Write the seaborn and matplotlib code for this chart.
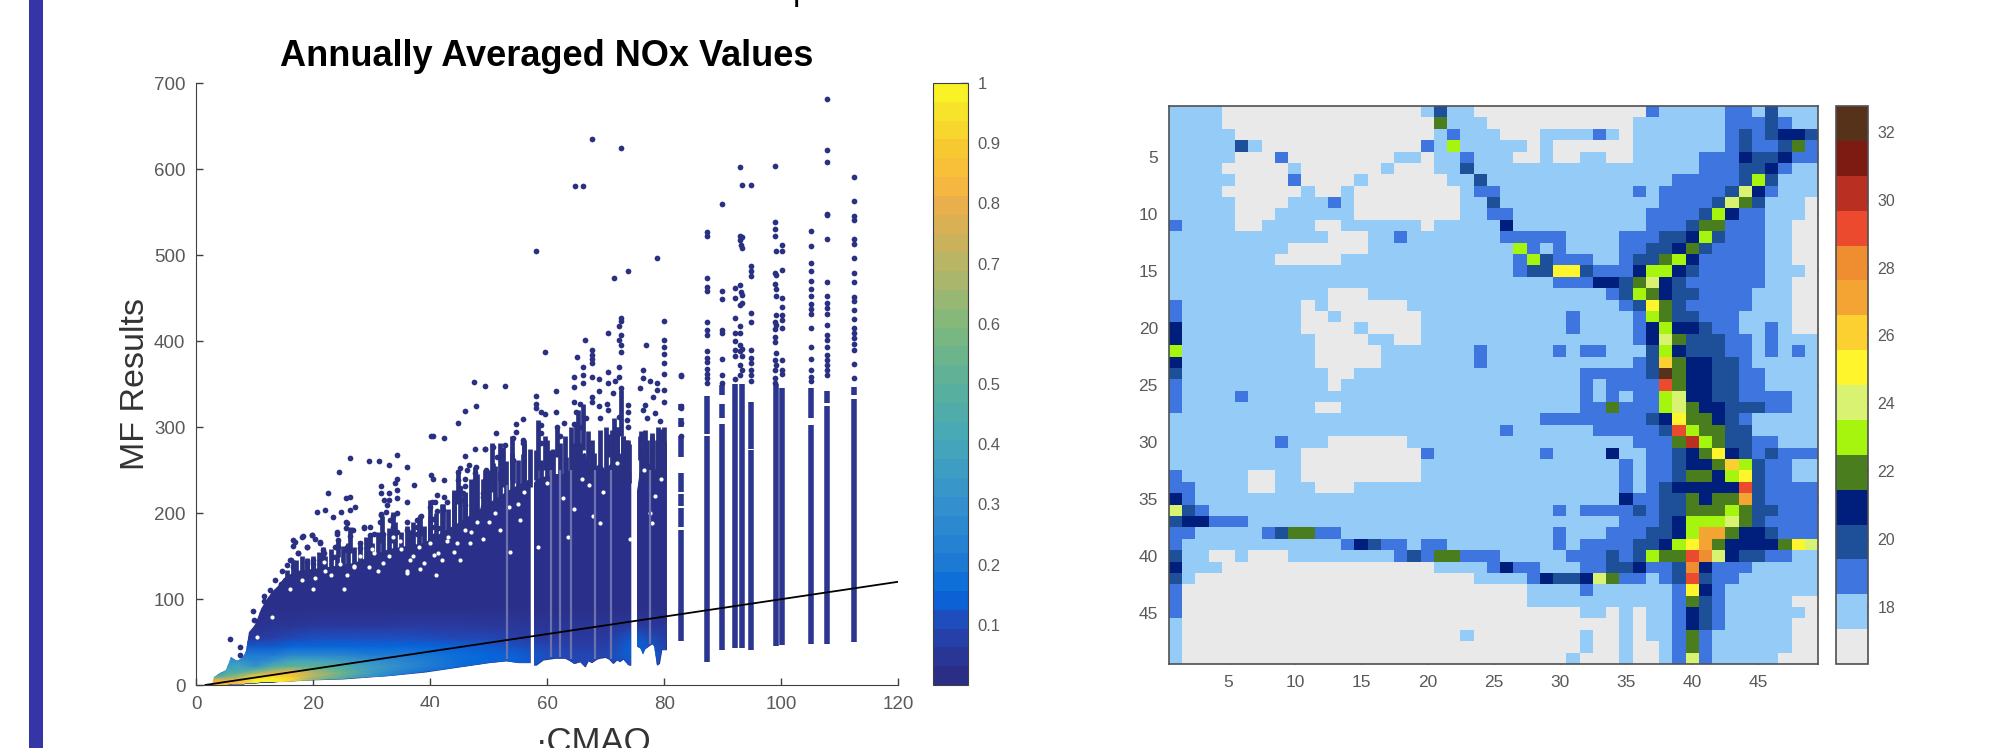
# NOx scatter (density coloured) next to the gridded map
import numpy as np
import pandas as pd
import matplotlib
matplotlib.use("Agg")
import matplotlib.pyplot as plt
from matplotlib.colors import LinearSegmentedColormap, ListedColormap
from matplotlib.patches import Rectangle
import seaborn as sns

# ---- scatter: outline of the dense cloud, three pieces with white gaps between
CLOUD1_X = [2.7, 3, 4, 5, 6, 7, 8, 8.4, 9, 10, 11, 12, 13, 14, 15, 17, 20, 25, 27, 33, 39, 45, 50, 53, 55, 57.1]
CLOUD1_LOW = [0, 0, 0, 0, 1, 1, 1, 2, 2, 2, 3, 3, 3, 4, 4, 5, 6, 7, 8, 11, 15, 21, 26, 28, 26, 26]
CLOUD1_TOP = [0.5, 9, 14, 18, 32, 28, 32, 40, 62, 70, 88, 100, 108, 115, 125, 132, 135, 140, 142, 158, 165, 190, 212, 225, 232, 240]
CLOUD2_X = [57.7, 58.1, 58.5, 59.3, 61.3, 63, 63.9, 64.6, 65.6, 66.5, 67, 67.6, 68.5, 69, 69.9, 70.5, 71.3, 71.9, 72.4, 73, 73.9, 74.3]
CLOUD2_LOW = [23, 23, 25, 29, 31, 31, 28, 25, 27, 21, 28, 26, 30, 31, 32, 30, 25, 29, 27, 30, 23, 23]
CLOUD2_TOP = [235, 238, 240, 242, 245, 245, 250, 262, 268, 270, 255, 250, 255, 258, 250, 255, 262, 270, 270, 262, 252, 248]
CLOUD3_X = [75.3, 75.9, 76.3, 76.7, 77.9, 78.3, 78.7, 79.2, 79.6, 80.4]
CLOUD3_LOW = [45, 43, 36, 42, 48, 45, 23, 25, 41, 41]
CLOUD3_TOP = [225, 250, 262, 262, 255, 250, 252, 255, 265, 285]

# density inside the cloud (rows DENS_Y, columns DENS_X)
DENS_X = [2, 5, 7, 10, 13, 16, 20, 25, 30, 35, 40, 45, 50, 55, 60, 65, 70, 75, 81]
DENS_Y = [0, 3, 6, 10, 14, 18, 22, 28, 35, 45, 55, 70, 90, 300]
DENSITY = [
    [.85, .85, .85, .95, .95, .80, .30, .20, .15, .10, .10, .10, .10, .10, .10, .10, .10, .10, .10],
    [.85, .85, .85, 1.0, 1.0, .90, .50, .30, .20, .12, .10, .10, .10, .10, .10, .10, .10, .10, .10],
    [.80, .80, .80, 1.0, 1.0, .95, .60, .40, .25, .14, .12, .10, .10, .10, .10, .10, .10, .10, .10],
    [.40, .55, .65, .90, .95, .90, .70, .50, .30, .18, .14, .12, .10, .10, .10, .10, .10, .10, .10],
    [.20, .45, .50, .65, .80, .85, .70, .55, .35, .22, .15, .14, .10, .10, .10, .10, .10, .10, .10],
    [.10, .40, .40, .45, .60, .70, .60, .50, .35, .25, .18, .14, .12, .10, .10, .10, .10, .10, .10],
    [.10, .35, .40, .30, .45, .50, .50, .45, .35, .28, .20, .16, .12, .12, .08, .08, .08, .10, .08],
    [.10, .30, .30, .25, .30, .40, .40, .35, .30, .25, .20, .16, .14, .13, .10, .08, .08, .12, .08],
    [.10, .20, .20, .20, .20, .25, .25, .25, .20, .20, .18, .16, .14, .13, .10, .08, .08, .14, .08],
    [.10, .10, .12, .12, .12, .14, .14, .14, .14, .14, .14, .13, .12, .10, .08, .06, .06, .14, .06],
    [.02, .02, .03, .05, .06, .08, .10, .10, .10, .10, .09, .08, .08, .06, .05, .05, .05, .12, .05],
    [.02, .02, .02, .02, .03, .03, .04, .04, .04, .05, .05, .05, .04, .04, .03, .03, .03, .05, .03],
    [.01, .01, .01, .01, .01, .01, .01, .01, .01, .01, .01, .01, .01, .01, .01, .01, .01, .01, .01],
    [.01, .01, .01, .01, .01, .01, .01, .01, .01, .01, .01, .01, .01, .01, .01, .01, .01, .01, .01],
]

# the single tall columns right of x=80
COL_X = [82.8, 82.8, 82.8, 82.8, 82.8, 82.8, 82.8, 87.4, 87.4, 89.9, 89.9, 89.9, 92.1, 93.3, 94.9, 94.9, 99.1, 100.2, 105.1, 105.1, 107.8, 107.8, 112.5, 112.5]
COL_LOW = [51, 184, 208, 225, 265, 300, 320, 27, 292, 41, 310, 337, 43, 43, 41, 275, 45, 46, 48, 310, 48, 328, 50, 337]
COL_TOP = [180, 206, 222, 246, 290, 310, 327, 289, 336, 303, 327, 349, 350, 350, 273, 329, 350, 345, 302, 345, 325, 342, 333, 346]

# broken strips above the solid cloud
DASH_X = [49.6, 50.8, 52.5, 54.2, 55.9, 58.1, 59, 60.5, 61.6, 62.2, 63.3, 64.2, 65.3, 65.6, 66.2, 67.6, 69, 70.4, 71.9, 72.7, 73, 73.9, 75.9, 76.4, 77.9, 78.7, 80,
          44.8, 47.6, 49.4, 46, 44, 42.2, 40, 40, 38.2, 36.5, 33.7, 31.7, 29.7, 26.3, 24.3, 21.7, 16.6, 18.9, 20, 15.5,
          58.5, 59.6, 54, 56, 52, 50.5, 71, 76.8, 72.9, 73.4, 79.5]
DASH_LOW = [215, 225, 230, 235, 230, 238, 238, 250, 265, 238, 242, 258, 265, 258, 273, 238, 250, 265, 238, 289, 238, 258, 262, 238, 250, 238, 238,
            211, 180, 200, 180, 173, 161, 204, 165, 173, 149, 165, 165, 149, 153, 149, 138, 124, 122, 122, 122,
            250, 250, 238, 238, 238, 242, 238, 238, 238, 238, 238]
DASH_TOP = [238, 258, 277, 262, 269, 273, 262, 273, 300, 281, 265, 281, 320, 281, 327, 285, 296, 292, 300, 343, 289, 285, 289, 262, 293, 285, 300,
            250, 254, 250, 223, 227, 211, 215, 196, 198, 180, 201, 196, 176, 184, 169, 161, 145, 141, 145, 134,
            308, 290, 289, 285, 281, 281, 296, 296, 290, 285, 298]

# closely spaced strips that make the speckled rim of the cloud
STRIP_X = [17, 18, 19, 20, 21, 22, 23, 24, 25, 26, 27, 28, 29, 30, 31, 32, 33, 34, 35, 36, 37, 38, 39, 40, 41, 42, 43, 44, 45, 46, 47, 48, 49, 50, 51, 52, 53, 54, 55, 56, 57,
           60, 61, 63, 64, 65, 67, 68, 70, 71.5, 72, 74, 76, 77, 78, 79]
STRIP_LOW = [125, 125, 125, 125, 130, 130, 130, 130, 130, 135, 135, 135, 140, 140, 140, 150, 150, 150, 155, 155, 155, 160, 160, 160, 170, 170, 170, 180, 180, 180, 195, 195, 195, 205, 205, 205, 220, 220, 220, 230, 230,
             235, 235, 235, 235, 235, 235, 235, 235, 235, 235, 235, 235, 235, 235, 235]
STRIP_TOP = [145, 150, 148, 150, 155, 150, 158, 152, 162, 165, 160, 168, 172, 165, 178, 175, 182, 190, 178, 185, 190, 195, 185, 205, 200, 210, 205, 225, 230, 225, 240, 245, 240, 250, 255, 248, 260, 270, 262, 280, 275,
             285, 275, 290, 300, 305, 295, 270, 300, 310, 300, 280, 295, 285, 290, 300]

# holes in the cloud and the paler thin strips
HOLE_X = [34.9, 33.7, 36.6, 29.5, 30.3, 25.2, 20, 10.4, 12.9, 20.3, 24.6, 21.8, 40.6, 41.4, 44.6, 46.8, 38.3, 42.8, 36, 25.8, 26.9, 53.7, 63.6, 69, 77.6, 77.9, 55.4, 53.4, 58.5, 67.9, 74.2,
          28, 30, 33, 35, 37, 38, 40, 43, 46, 48, 27, 32, 23, 18, 16, 22, 36, 39, 42, 44, 47, 50, 51, 52, 55, 56, 31, 41, 45, 49,
          60, 62.7, 66, 69.5, 72, 78.5, 79.5, 76.5, 64.5, 67.2]
HOLE_Y = [167, 172, 145, 137, 153, 112, 112, 56, 79, 124, 141, 143, 151, 153, 165, 165, 135, 168, 133, 128, 137, 155, 172, 188, 200, 188, 192, 207, 161, 196, 170,
          150, 158, 150, 158, 150, 160, 165, 172, 180, 190, 138, 142, 128, 122, 112, 132, 130, 142, 145, 155, 178, 190, 200, 180, 210, 225, 132, 128, 145, 170,
          235, 218, 240, 225, 258, 220, 240, 250, 205, 232]
PALE_X = [53.2, 60.6, 62.2, 64, 68.2, 70.9, 77.6]
PALE_LOW = [30, 33, 33, 30, 30, 30, 48]
PALE_TOP = [232, 250, 250, 250, 250, 250, 250]

# single points, left part, middle part, right part
EDGE_X = [5.8, 7.5, 7.5, 9.6, 9.9, 11.5, 13.5, 14.6, 16.1, 17.3, 18.9, 16.8, 18.3, 19.8, 21.2, 21.8, 24, 23.8, 25.8, 28.6, 31.5, 11.5, 12.6, 15.5, 14.4, 16.6, 20, 21.5, 25.8, 28, 30.3]
EDGE_Y = [53, 44, 35, 86, 76, 104, 122, 132, 145, 154, 160, 166, 173, 174, 166, 153, 176, 161, 188, 182, 198, 98, 110, 139, 118, 137, 141, 137, 161, 165, 176]
LEFT_X = [47.5, 49.4, 47.8, 46, 44.7, 40.2, 40.5, 42.3, 47.6, 49.4, 46, 26.3, 29.6, 31.2, 33, 34.3, 36.1, 24.4, 40.2, 40.5, 42.3, 34, 34.3, 31.5, 37.3, 22.5, 31.5, 33, 34.3, 34.3, 25.6, 26.2, 36.1, 27.1, 26.3, 24.7, 22, 20.6, 23.4, 41.1, 32.1, 33, 32.6, 40.3, 40.8, 40, 42.3, 42.8, 41.2, 42.2, 31.5, 32.4, 34.3, 33.7, 33.1, 38.5, 37.7, 36.1, 25.6, 25.6, 26.8, 24, 28.6, 29.7, 31.4, 40.5, 40.3, 41.4, 37.7, 38.8, 33.7, 32, 33.1, 29.7, 19.7, 18, 16.6, 16.6, 20.3, 21.2, 17.3, 18.9, 26.3, 24.3, 23.7, 24.3, 25.4, 28, 21.7, 16, 18.9, 20, 21.7, 23.4, 34.3, 36, 37.7, 40.5, 42.2, 44.8, 45.1, 46.2, 46.7, 47.9, 49.6, 44.8, 46, 47.6, 47.6, 49.4, 46, 45.1, 44.5, 45.6, 47.6, 49.1, 45.4, 47.6, 46, 47.4, 49.1, 49.1]
LEFT_Y = [352, 348, 325, 319, 305, 290, 289, 287, 274, 274, 266, 264, 260, 260, 256, 268, 254, 248, 244, 240, 238, 235, 239, 231, 233, 223, 223, 223, 227, 217, 217, 219, 213, 207, 203, 201, 203, 201, 195, 221, 215, 215, 209, 213, 213, 207, 219, 213, 202, 203, 199, 201, 200, 196, 192, 196, 192, 189, 189, 182, 180, 178, 184, 184, 189, 193, 184, 182, 184, 178, 184, 176, 176, 174, 174, 172, 169, 162, 170, 165, 154, 160, 173, 169, 161, 161, 157, 159, 157, 145, 143, 145, 149, 149, 178, 180, 176, 173, 174, 248, 252, 250, 256, 254, 250, 238, 240, 246, 238, 238, 231, 229, 223, 223, 227, 223, 215, 217, 209, 200, 219, 207]
MID_X = [58.1, 78.8, 73.8, 71.4, 64.7, 66.1, 67.7, 72.6, 72.6, 72.6, 72.3, 70.4, 72.6, 72.3, 72.6, 72.6, 66.4, 59.6, 65.1, 67.7, 67.7, 67.7, 67.7, 80, 80, 80, 80, 80, 76.9, 76.3, 82.8, 82.8, 82.8, 82.8, 82.8, 52.8, 61.5, 58.1, 58.1, 58.1, 59, 59.6, 61.5, 55.9, 54.7, 51.2, 54.7, 59, 59, 66.2, 66.2, 66.2, 64.6, 64.6, 67.7, 68.9, 70.4, 70.4, 72.2, 72.2, 71.6, 72.7, 68.9, 67.7, 67.7, 71.3, 70.2, 68.9, 73.9, 73.9, 76.4, 75.9, 77.6, 78.7, 78.7, 80, 80, 80, 78.1, 76.7, 76.4, 78.4, 77, 79.3, 70.4, 72.2, 73.6, 73.9, 69, 62.8, 64.5, 65.6, 64.5, 65, 66.7, 65.6, 59, 61.6, 62.2, 54.2, 55.9, 49.4, 50.8, 52.8, 51.4, 54.2, 55.9]
MID_Y = [505, 497, 481, 473, 580, 580, 635, 625, 427, 423, 417, 409, 407, 401, 395, 387, 401, 387, 381, 389, 384, 379, 374, 423, 401, 393, 385, 375, 395, 366, 360, 325, 322, 305, 289, 348, 342, 336, 327, 322, 318, 315, 318, 309, 303, 293, 294, 302, 293, 370, 360, 351, 358, 347, 358, 356, 364, 351, 370, 358, 353, 345, 342, 335, 329, 339, 327, 324, 326, 318, 357, 345, 353, 351, 343, 362, 343, 329, 335, 326, 320, 316, 310, 307, 320, 312, 308, 300, 310, 305, 304, 327, 329, 318, 310, 300, 281, 300, 289, 287, 285, 274, 277, 279, 265, 262, 281]
RIGHT_X = [82.8, 87.4, 87.4, 87.4, 87.4, 87.4, 87.4, 87.4, 87.4, 87.4, 87.4, 87.4, 87.4, 87.4, 87.4, 87.4, 89.9, 89.9, 89.9, 89.9, 89.9, 89.9, 89.9, 89.9, 93, 93.3, 94.9, 93, 93.4, 93, 93.1, 93.3, 94.9, 94.9, 94.9, 92.1, 93, 93.2, 93.4, 92.1, 93.4, 93, 92.1, 94.9, 94.9, 93, 92.1, 93, 92.1, 92.1, 92.1, 93, 93.4, 93, 93.4, 94.9, 94.9, 94.9, 93, 93.3, 93, 92.1, 94.9, 94.9, 94.9, 98.9, 98.9, 98.9, 98.9, 100.2, 99.2, 100.2, 100.2, 98.9, 99.2, 98.9, 99.2, 99.2, 100.2, 100.2, 99.2, 100.2, 100.2, 98.9, 99.2, 98.9, 100.2, 98.9, 98.9, 99.2, 100.2, 98.9, 99.2, 98.9, 100.2, 100.2, 98.9, 98.9, 105.1, 105.1, 105.1, 105.1, 105.1, 105.1, 105.1, 105.1, 105.1, 105.1, 105.1, 105.1, 105.1, 105.1, 105.1, 105.1, 107.8, 107.8, 107.8, 107.8, 107.8, 107.8, 107.8, 107.8, 107.8, 107.8, 107.8, 107.8, 107.8, 107.8, 107.8, 107.8, 107.8, 107.8, 107.8, 107.8, 112.5, 112.5, 112.5, 112.5, 112.5, 112.5, 112.5, 112.5, 112.5, 112.5, 112.5, 112.5, 112.5, 112.5, 112.5, 112.5, 112.5, 112.5, 112.5, 112.5]
RIGHT_Y = [359, 527, 522, 473, 463, 458, 422, 413, 407, 388, 380, 376, 368, 362, 357, 351, 559, 458, 449, 413, 409, 379, 360, 351, 602, 581, 581, 522, 521, 517, 512, 508, 487, 481, 476, 462, 465, 457, 453, 450, 444, 442, 427, 432, 422, 418, 409, 409, 400, 390, 382, 395, 391, 388, 382, 389, 380, 374, 372, 366, 361, 356, 366, 360, 353, 603, 538, 530, 522, 512, 505, 505, 483, 479, 477, 466, 460, 452, 450, 439, 430, 430, 425, 422, 419, 414, 415, 405, 399, 386, 378, 378, 372, 366, 366, 362, 357, 351, 528, 510, 491, 481, 470, 460, 452, 443, 437, 431, 415, 393, 379, 366, 358, 353, 681, 622, 608, 548, 546, 519, 469, 452, 444, 438, 431, 419, 407, 401, 393, 384, 378, 372, 366, 360, 591, 563, 545, 541, 519, 513, 496, 479, 469, 451, 446, 436, 426, 415, 409, 403, 397, 389, 373, 357]

LINE_X = [1.5, 120]
LINE_Y = [0, 120]

SCATTER_XTICKS = [0, 20, 40, 60, 80, 100, 120]
SCATTER_YTICKS = [0, 100, 200, 300, 400, 500, 600, 700]
DENS_TICKS = [.1, .2, .3, .4, .5, .6, .7, .8, .9, 1]
DENS_LABELS = ["0.1", "0.2", "0.3", "0.4", "0.5", "0.6", "0.7", "0.8", "0.9", "1"]

# ---- map: one character per cell, hex level of the 16 colour bar, west half / east half
MAP_WEST = [
    "1111000000000000000131100",
    "1111000000000000000051110",
    "1111100000000000000012111",
    "1111131000000000000216111",
    "1111100020000000011011211",
    "1111000001000000100011311",
    "1111100002000010000001131",
    "1111000000100100000000122",
    "1111100001112100000000113",
    "1111100011111100000000112",
    "2111100111100111111011111",
    "1111111111110001121111111",
    "1111111110000001111111111",
    "1111111100000111111111111",
    "1111111111111111111111111",
    "1111111111111111111111111",
    "1111111111110001111111111",
    "2111111111010000001111111",
    "2111111111001000000111111",
    "4111111111000010000111111",
    "4111111111100001100111111",
    "6111111111100000111111121",
    "4111111111100000111111121",
    "3111111111110011111111111",
    "2111111111110111111111111",
    "2111121111111111111111111",
    "2111111111100111111111111",
    "1111111111111111111111111",
    "1111111111111111111111111",
    "1111111121110000001111111",
    "1111111111000000000211111",
    "1111111111000000000111111",
    "2111110011000000000111111",
    "2211110011100011111111111",
    "4211111111111111111111111",
    "7321111111111111111111111",
    "3442221111111111111111111",
    "2211111235522111111111111",
    "2111111111111243221221111",
    "3110010001111111123255222",
    "4111000000000000000011112",
    "3100000000000000000000011",
    "2000000000000000000000000",
    "2000000000000000000000000",
    "2000000000000000000000000",
    "1000000000000000000000000",
    "1000000000000000000000100",
    "1000000000000000000000000",
    "1000000000000000000000000",
]
MAP_EAST = [
    "000000000002111112213111",
    "000000000011111112223211",
    "000111121011111112323443",
    "110100000011111112322352",
    "100100110011111222433422",
    "111111111111111222334211",
    "111111111111122222363111",
    "111111111121222223742111",
    "111111111111222237531110",
    "211111111112222364221110",
    "411111111112223552221100",
    "222221111222334632221100",
    "162121111223345322221100",
    "126322211233564222221100",
    "123388322246643222221110",
    "111122244357432222221100",
    "111111112365433222211100",
    "111111111238532222211100",
    "111112111126533222111100",
    "111112111124644322112100",
    "111111111124753332212111",
    "111121221113643332212121",
    "111111111123954433211111",
    "111111222223F54433221111",
    "111111212222C54433221111",
    "111111212122674433222211",
    "111111225222675443332211",
    "111222222223485543211111",
    "2111111222223C6553311111",
    "11111111112225D653322111",
    "111211114112234584323222",
    "111111111212234459632211",
    "111111111212235546832211",
    "111111111212344444C32222",
    "111111111422335455A32222",
    "111121222232335556533222",
    "111111111222346667532222",
    "111121112223346AA5443222",
    "111121222233468A54444587",
    "11111222323655CB74332211",
    "42211122334223B422211111",
    "11243347522123C322111111",
    "001111211111128421111111",
    "001111111111125321111100",
    "000000110101124321111110",
    "000000000101124321111100",
    "000000100101125211111100",
    "000000100100125211111100",
    "000001000100127211111000",
]
MAP_COLORS = ["#e9e9e9", "#95ccf7", "#3f75de", "#1e4f99", "#001e7c", "#4a7d1d", "#a6f50e", "#d9f272",
              "#fff52c", "#fbd030", "#f3a432", "#ef8e30", "#eb4a2e", "#b92f22", "#7d1b13", "#56321a"]
MAP_TICKS = [5, 10, 15, 20, 25, 30, 35, 40, 45]
BAR_VALUES = [18, 20, 22, 24, 26, 28, 30, 32]
BAR_MIN = 16.32
BAR_STEP = 1.0275

NAVY = "#2a3182"
PARULA = [(0, "#2a2e85"), (.05, "#2a3aa0"), (.1, "#1d4fc0"), (.14, "#0568dc"), (.2, "#1f7bd3"),
          (.3, "#3591cc"), (.4, "#45a7ba"), (.5, "#5ab09a"), (.6, "#7fb97c"), (.7, "#b5b567"),
          (.8, "#e6ae4e"), (.85, "#f9b93f"), (.9, "#f6c831"), (1, "#f8f227")]
W, H = 2007, 748


def box(left, top, right, bottom):
    return [left / W, 1 - bottom / H, (right - left) / W, (bottom - top) / H]


sns.set_style("ticks")
plt.rcParams["font.family"] = ["Liberation Sans", "DejaVu Sans"]
plt.rcParams["axes.edgecolor"] = "#404040"
fig = plt.figure(figsize=(W / 100, H / 100), dpi=100)

# STEP 1: scatter
ax = fig.add_axes(box(196.4, 83, 898, 685))
cmap = LinearSegmentedColormap.from_list("parula_like", PARULA, N=32)
clouds = [(CLOUD1_X, CLOUD1_LOW, CLOUD1_TOP), (CLOUD2_X, CLOUD2_LOW, CLOUD2_TOP), (CLOUD3_X, CLOUD3_LOW, CLOUD3_TOP)]
smooth = LinearSegmentedColormap.from_list("parula_smooth", PARULA, N=256)
for cx, low, top in clouds:
    poly = ax.fill_between(cx, low, top, color=NAVY, lw=0, zorder=1)
    mesh = ax.pcolormesh(DENS_X, DENS_Y, np.array(DENSITY), shading="gouraud", cmap=smooth, vmin=0, vmax=1, zorder=1.5)
    mesh.set_clip_path(poly.get_paths()[0], ax.transData)

ax.vlines(COL_X, COL_LOW, COL_TOP, color="#2c3690", lw=4, zorder=2)
ax.vlines(DASH_X, DASH_LOW, DASH_TOP, color=NAVY, lw=3.4, zorder=2)
ax.vlines(STRIP_X, STRIP_LOW, STRIP_TOP, color=NAVY, lw=3.4, zorder=2)
ax.vlines(PALE_X, PALE_LOW, PALE_TOP, color="#6d72ad", lw=1.6, zorder=2.5)

points = pd.DataFrame({"x": EDGE_X + LEFT_X + MID_X + RIGHT_X, "y": EDGE_Y + LEFT_Y + MID_Y + RIGHT_Y})
sns.scatterplot(data=points, x="x", y="y", ax=ax, color=NAVY, s=17, linewidth=0, zorder=2, clip_on=False)
sns.scatterplot(x=HOLE_X, y=HOLE_Y, ax=ax, color="white", s=9, linewidth=0, zorder=2.2)
sns.lineplot(x=LINE_X, y=LINE_Y, ax=ax, color="black", lw=1.3, zorder=4)

ax.set_xlim(0, 120)
ax.set_ylim(0, 700)
ax.set_xticks(SCATTER_XTICKS)
ax.set_yticks(SCATTER_YTICKS)
ax.tick_params(direction="in", length=5, width=1, labelsize=13.5, labelcolor="#595959", color="#404040", pad=8)
ax.set_xlabel("")
ax.set_ylabel("")
sns.despine(ax=ax)
fig.text(547 / W, 1 - 57 / H, "Annually Averaged NOx Values", fontsize=26, fontweight="bold", ha="center", va="center", color="black")
fig.text(135 / W, 1 - 384 / H, "MF Results", fontsize=24.5, rotation=90, ha="center", va="center", color="#333333")
fig.text(536 / W, 1 - 726 / H, "·CMAQ", fontsize=25, ha="left", va="top", color="#333333")

cax = fig.add_axes(box(933, 83, 968, 685))
fig.colorbar(plt.cm.ScalarMappable(cmap=cmap, norm=plt.Normalize(0, 1)), cax=cax, ticks=DENS_TICKS)
cax.set_yticklabels(DENS_LABELS)
cax.tick_params(direction="in", length=5, width=1, labelsize=12, labelcolor="#595959", color="#404040", pad=7)

# STEP 2: map
grid = [[int(c, 16) for c in west + east] for west, east in zip(MAP_WEST, MAP_EAST)]
ax2 = fig.add_axes(box(1169, 106, 1818, 664))
cax2 = fig.add_axes(box(1836, 106, 1868, 664))
sns.heatmap(np.array(grid), ax=ax2, cbar_ax=cax2, cmap=ListedColormap(MAP_COLORS), vmin=-.5, vmax=15.5,
            xticklabels=False, yticklabels=False, square=False)
ax2.set_xticks([t - .5 for t in MAP_TICKS])
ax2.set_yticks([t - .5 for t in MAP_TICKS])
ax2.set_xticklabels(MAP_TICKS, rotation=0)
ax2.set_yticklabels(MAP_TICKS, rotation=0)
ax2.tick_params(direction="in", length=4, width=1, labelsize=12.5, labelcolor="#595959", color="#404040",
                top=True, right=True, left=True, bottom=True, pad=8)
for side in ax2.spines.values():
    side.set_visible(True)
    side.set_color("#505050")
    side.set_linewidth(1.2)

bar = ax2.collections[0].colorbar
bar.set_ticks([(v - BAR_MIN) / BAR_STEP - .5 for v in BAR_VALUES])
bar.set_ticklabels(BAR_VALUES)
bar.outline.set_visible(True)
bar.outline.set_edgecolor("#505050")
bar.outline.set_linewidth(1.2)
cax2.tick_params(direction="in", length=4, width=1, labelsize=11.5, labelcolor="#595959", color="#404040", pad=7)

# STEP 3: slide leftovers, the blue band, a clipped heading, the cut "40"
fig.add_artist(Rectangle((29 / W, 0), 14 / W, 1, transform=fig.transFigure, color="#3535a8", lw=0))
fig.text(793 / W, 1.0, "p", fontsize=24, ha="left", va="baseline", color="black")
fig.add_artist(Rectangle((405 / W, 1 - 722 / H), 60 / W, 15 / H, transform=fig.transFigure, color="white", lw=0, zorder=10))

fig.savefig("out.png", dpi=100)
